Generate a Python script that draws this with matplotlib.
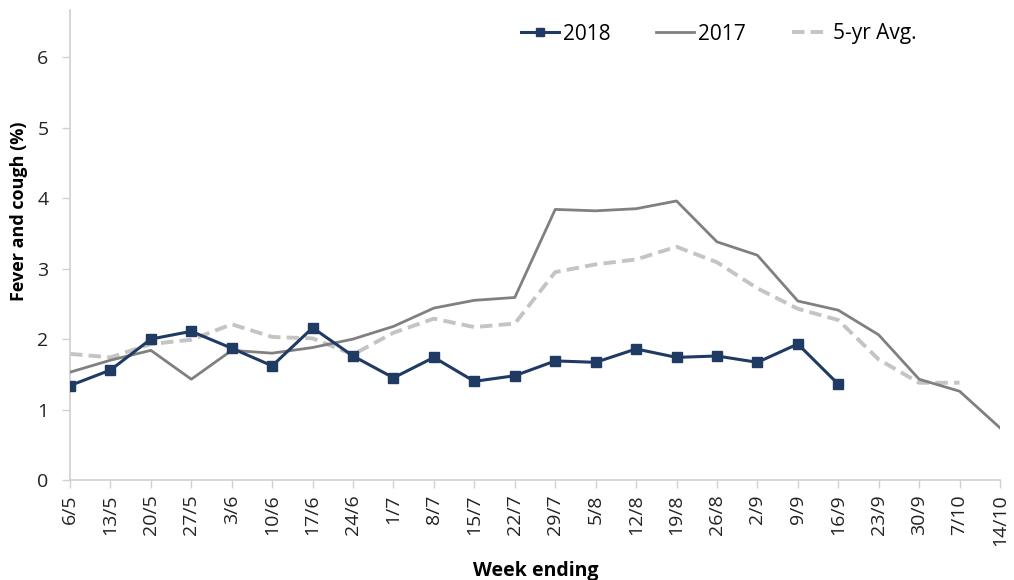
import matplotlib.pyplot as plt

plt.rcParams['font.family'] = ['Open Sans', 'DejaVu Sans']

weeks = ['6/5', '13/5', '20/5', '27/5', '3/6', '10/6', '17/6', '24/6', '1/7', '8/7',
         '15/7', '22/7', '29/7', '5/8', '12/8', '19/8', '26/8', '2/9', '9/9', '16/9',
         '23/9', '30/9', '7/10', '14/10']

y2018 = [1.34, 1.56, 2.00, 2.11, 1.87, 1.62, 2.16, 1.76, 1.45, 1.74,
         1.40, 1.48, 1.69, 1.67, 1.86, 1.74, 1.76, 1.67, 1.93, 1.36]

y2017 = [1.53, 1.70, 1.84, 1.43, 1.84, 1.80, 1.88, 2.00, 2.18, 2.44,
         2.55, 2.59, 3.84, 3.82, 3.85, 3.96, 3.38, 3.19, 2.54, 2.41,
         2.06, 1.43, 1.26, 0.74]

avg5 = [1.79, 1.74, 1.93, 1.99, 2.21, 2.03, 2.01, 1.78, 2.09, 2.29,
        2.17, 2.22, 2.95, 3.06, 3.13, 3.31, 3.09, 2.72, 2.43, 2.27,
        1.71, 1.38, 1.38]


def main():
    fig = plt.figure(figsize=(10.14, 5.8), dpi=100)
    ax = fig.add_axes([70 / 1014, 1 - 480 / 580, 930 / 1014, 470 / 580])

    ax.plot(range(len(avg5)), avg5, color="#c4c4c4", linewidth=2.8,
            dashes=(3.2, 1.6), label="5-yr Avg.", zorder=2)
    ax.plot(range(len(y2017)), y2017, color="#808080", linewidth=2.0,
            label="2017", zorder=3)
    ax.plot(range(len(y2018)), y2018, color="#1f3a63", linewidth=2.2,
            marker="s", markersize=6.5, label="2018", zorder=4)

    ax.set_xlim(0, len(weeks) - 1)
    ax.set_ylim(0, 6.67)
    ax.set_yticks(range(7))
    ax.set_xticks(range(len(weeks)))
    ax.set_xticklabels(weeks, rotation=90)
    ax.tick_params(axis='both', labelsize=14, colors="#d0d0d0",
                   labelcolor="#222222", length=5.5, width=1)
    ax.tick_params(axis='x', pad=5)
    ax.tick_params(axis='y', pad=10)

    for s in ['top', 'right']:
        ax.spines[s].set_visible(False)
    for s in ['left', 'bottom']:
        ax.spines[s].set_color("#d0d0d0")
        ax.spines[s].set_linewidth(1.2)

    ax.set_ylabel("Fever and cough (%)", fontsize=13, fontweight="bold")
    ax.yaxis.set_label_coords(-0.045, 0.572)
    ax.set_xlabel("Week ending", fontsize=14, fontweight="bold", va="top")
    ax.xaxis.set_label_coords(0.501, -0.172)

    handles, labels = ax.get_legend_handles_labels()
    order = [2, 1, 0]
    fig.legend([handles[i] for i in order], [labels[i] for i in order],
               loc="center", bbox_to_anchor=(0.709, 1 - 34 / 580), ncol=3,
               frameon=False, fontsize=15, handlelength=1.8,
               handletextpad=0.2, columnspacing=2.2, markerscale=0.8)

    plt.savefig("out.png", dpi=100)


if __name__ == "__main__":
    main()
